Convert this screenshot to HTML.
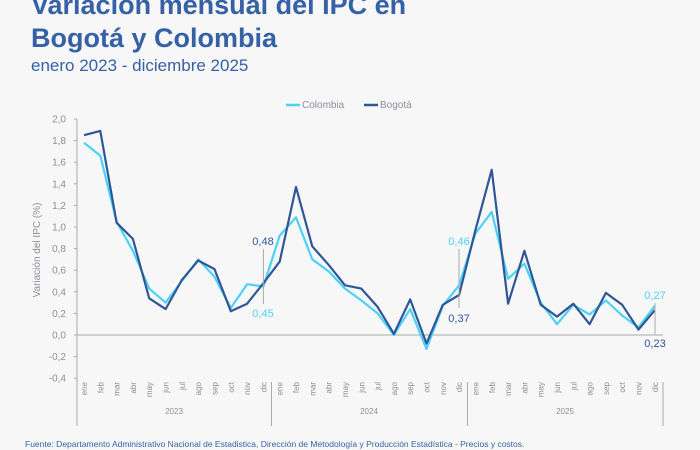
<!DOCTYPE html>
<html><head><meta charset="utf-8">
<style>
body{margin:0;background:#f7f7f7;}
svg{display:block;font-family:"Liberation Sans",sans-serif;}
</style></head>
<body>
<svg id="s" width="700" height="450" viewBox="0 0 700 450" xmlns="http://www.w3.org/2000/svg">
<rect width="700" height="450" fill="#f7f7f7"/>
<text x="31" y="14" font-size="27" font-weight="bold" fill="#3561a6">Variación mensual del IPC en</text>
<text x="31" y="47" font-size="27" font-weight="bold" fill="#3561a6">Bogotá y Colombia</text>
<text x="31" y="71" font-size="17" fill="#3561a6">enero 2023 - diciembre 2025</text>
<line x1="286" y1="105" x2="300" y2="105" stroke="#4dd2f5" stroke-width="2.5"/>
<text x="302" y="108" font-size="10" fill="#8a8f98">Colombia</text>
<line x1="364" y1="105" x2="378" y2="105" stroke="#2f5797" stroke-width="2.5"/>
<text x="380" y="108" font-size="10" fill="#8a8f98">Bogotá</text>
<text transform="translate(40,250) rotate(-90)" text-anchor="middle" font-size="10" fill="#8a8f98">Variación del IPC (%)</text>
<g id="g"></g>
<text x="25" y="447" font-size="8.5" fill="#3561a6">Fuente: Departamento Administrativo Nacional de Estadistica, Dirección de Metodología y Producción Estadística - Precios y costos.</text>
</svg>
<script>
var g=document.getElementById('g'),h='';
function Y(v){return 335-v*108;}
function X(i){return 84+i*16.31;}
for(var v=-4;v<=20;v+=2){var y=Y(v/10);h+='<line x1="74" y1="'+y+'" x2="77" y2="'+y+'" stroke="#aaa"/>';
h+='<text x="66" y="'+(y+3.5)+'" text-anchor="end" font-size="10" fill="#8a8f98">'+(v/10).toFixed(1).replace('.',',')+'</text>';}
h+='<line x1="77" y1="119" x2="77" y2="426" stroke="#aaa"/>';
h+='<line x1="77" y1="335" x2="663" y2="335" stroke="#aaa"/>';
var m=['ene','feb','mar','abr','may','jun','jul','ago','sep','oct','nov','dic'];
for(var i=0;i<36;i++){h+='<text transform="translate('+(X(i)+3)+',382) rotate(-90)" text-anchor="end" font-size="8" fill="#8a8f98">'+m[i%12]+'</text>';}
[271.5,467.5].forEach(function(x){h+='<line x1="'+x+'" y1="382" x2="'+x+'" y2="426" stroke="#aaa"/>';});
h+='<line x1="663" y1="382" x2="663" y2="426" stroke="#aaa"/>';
[[174,'2023'],[369,'2024'],[565,'2025']].forEach(function(a){h+='<text x="'+a[0]+'" y="414" text-anchor="middle" font-size="8" fill="#8a8f98">'+a[1]+'</text>';});
var c=[1.78,1.66,1.05,0.78,0.43,0.30,0.50,0.70,0.54,0.25,0.47,0.45,0.92,1.09,0.70,0.59,0.43,0.32,0.20,0.00,0.24,-0.13,0.27,0.46,0.94,1.14,0.52,0.66,0.30,0.10,0.28,0.19,0.32,0.18,0.07,0.27];
var b=[1.85,1.89,1.04,0.89,0.34,0.24,0.51,0.69,0.61,0.22,0.29,0.48,0.68,1.37,0.82,0.65,0.46,0.43,0.26,0.01,0.33,-0.08,0.28,0.37,0.97,1.53,0.29,0.78,0.28,0.17,0.29,0.10,0.39,0.28,0.05,0.23];
function P(d,col){return '<polyline fill="none" stroke="'+col+'" stroke-width="2.2" stroke-linejoin="round" points="'+d.map(function(v,i){return X(i).toFixed(1)+','+Y(v).toFixed(1);}).join(' ')+'"/>';}
h+=P(c,'#4dd2f5')+P(b,'#2f5797');
h+='<line x1="263.4" y1="249" x2="263.4" y2="304" stroke="#aaa"/>';
h+='<text x="263" y="245" text-anchor="middle" font-size="11" fill="#2f5797">0,48</text>';
h+='<text x="263" y="317" text-anchor="middle" font-size="11" fill="#4dd2f5">0,45</text>';
h+='<line x1="459" y1="249" x2="459" y2="308" stroke="#aaa"/>';
h+='<text x="459" y="245" text-anchor="middle" font-size="11" fill="#4dd2f5">0,46</text>';
h+='<text x="459" y="322" text-anchor="middle" font-size="11" fill="#2f5797">0,37</text>';
h+='<line x1="655" y1="303" x2="655" y2="334" stroke="#aaa"/>';
h+='<text x="655" y="299" text-anchor="middle" font-size="11" fill="#4dd2f5">0,27</text>';
h+='<text x="655" y="347" text-anchor="middle" font-size="11" fill="#2f5797">0,23</text>';
g.innerHTML=h;
</script>
</body></html>
